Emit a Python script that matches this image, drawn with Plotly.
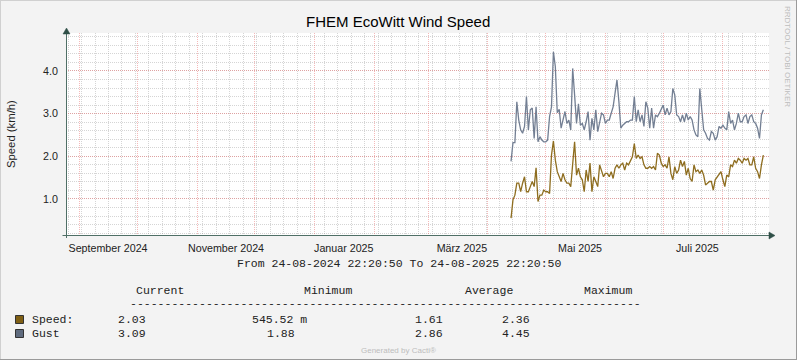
import plotly.graph_objects as go
import pandas as pd

# ---------------- data ----------------
title_text = "FHEM EcoWitt Wind Speed"
y_title = "Speed (km/h)"
range_start = "2024-08-24 22:20:50"
range_end = "2025-08-24 22:20:50"
data_first_day = "2025-04-13"
data_last_day = "2025-08-22"

speed = [0.55, 0.98, 1.09, 1.37, 1.37, 1.17, 1.37, 1.52, 1.17, 1.17,
         1.29, 1.41, 1.29, 1.73, 0.94, 1.09, 1.09, 1.21, 1.17, 1.17,
         1.13, 2.03, 2.36, 1.91, 1.64, 1.52, 1.41, 1.60, 1.45, 1.37,
         1.37, 1.29, 1.91, 2.34, 1.56, 1.72, 1.52, 1.45, 1.17, 1.68,
         1.41, 1.84, 1.17, 1.52, 1.41, 1.29, 1.80, 1.64, 1.52, 1.60,
         1.60, 1.52, 1.64, 1.48, 1.72, 1.80, 1.72, 1.80, 1.84, 1.68,
         1.84, 1.80, 1.91, 1.99, 2.30, 1.95, 2.03, 1.95, 1.99, 1.80,
         1.72, 1.72, 1.76, 1.72, 1.76, 1.68, 2.07, 2.03, 1.84, 1.76,
         1.80, 1.72, 1.99, 1.60, 1.45, 1.76, 1.60, 1.68, 1.91, 1.76,
         1.88, 1.56, 1.72, 1.48, 1.41, 1.80, 1.64, 1.68, 1.60, 1.68,
         1.56, 1.33, 1.37, 1.41, 1.41, 1.21, 1.45, 1.52, 1.60, 1.64,
         1.45, 1.29, 1.56, 1.52, 1.80, 1.76, 1.91, 1.84, 1.95, 1.91,
         1.84, 1.95, 1.91, 1.95, 1.80, 1.80, 1.99, 1.72, 1.64, 1.48,
         1.80, 2.03]

gust = [1.88, 2.32, 2.32, 3.28, 2.85, 2.62, 2.54, 2.70, 3.40, 2.62,
        3.09, 3.13, 2.42, 3.16, 2.34, 2.46, 2.38, 2.34, 2.34, 2.38,
        2.93, 3.16, 4.45, 4.10, 3.02, 3.10, 2.66, 2.85, 3.05, 2.77,
        2.85, 2.62, 4.06, 3.44, 2.77, 3.23, 2.73, 2.77, 2.62, 2.81,
        3.05, 2.38, 2.89, 2.62, 3.09, 2.58, 2.77, 3.01, 2.97, 2.77,
        2.85, 2.85, 3.01, 3.16, 3.48, 3.79, 3.28, 2.66, 2.73, 2.77,
        2.81, 2.81, 2.85, 2.85, 3.40, 2.81, 3.09, 2.81, 2.97, 2.70,
        3.28, 3.13, 2.66, 3.13, 2.66, 2.97, 2.93, 3.01, 3.09, 3.20,
        2.97, 3.13, 2.97, 3.05, 3.59, 3.44, 2.97, 2.93, 2.81, 2.97,
        2.81, 3.01, 2.85, 2.93, 2.85, 2.62, 2.50, 2.46, 3.59, 3.13,
        2.62, 2.54, 2.42, 2.38, 2.58, 2.54, 2.38, 2.46, 2.70, 2.66,
        2.73, 2.66, 2.62, 3.05, 2.77, 2.85, 2.62, 2.77, 3.01, 2.81,
        2.81, 2.93, 2.97, 2.77, 2.93, 2.97, 2.81, 2.77, 2.66, 2.42,
        2.97, 3.09]

days = pd.date_range(data_first_day, data_last_day, freq="D")

x_tick_vals = ["2024-09-15 18:00", "2024-11-16 00:00", "2025-01-16 04:00",
               "2025-03-18 12:00", "2025-05-18 20:00", "2025-07-18 18:00"]
x_tick_text = ["September 2024", "November 2024", "Januar 2025",
               "März 2025", "Mai 2025", "Juli 2025"]
y_tick_vals = [1, 2, 3, 4]
y_min, y_max = 0.156, 4.89

period_text = "From 24-08-2024 22:20:50 To 24-08-2025 22:20:50"
legend_headers = ["Current", "Minimum", "Average", "Maximum"]
legend_names = ["Speed:", "Gust"]
legend_current = ["2.03", "3.09"]
legend_minimum = ["545.52 m", "1.88"]
legend_average = ["1.61", "2.86"]
legend_maximum = ["2.36", "4.45"]

# ---------------- styling ----------------
W, H = 797, 360
PL, PR, PT, PB = 66, 769, 33, 235
BG = "#F3F3F3"
SPEED_LINE = "#8E6D1F"
GUST_LINE = "#737F93"
SPEED_BOX = "#7F5F14"
GUST_BOX = "#5F6B7E"
MGRID = "rgba(232,100,100,0.45)"
GRID = "rgba(150,150,150,0.40)"
AXIS = "#4F6F66"
ARROW = "#2F4F47"
SANS = "Liberation Sans, Arial, sans-serif"
MONO = "Liberation Mono, Courier New, monospace"
TXT = "#222222"


def px(x):
    return (x - PL) / (PR - PL)


def py(y):
    return (PB - y) / (PB - PT)


fig = go.Figure()
fig.add_trace(go.Scatter(x=days, y=gust, mode="lines", line=dict(color=GUST_LINE, width=1.3),
                         xaxis="x", yaxis="y", hoverinfo="skip", showlegend=False))
fig.add_trace(go.Scatter(x=days, y=speed, mode="lines", line=dict(color=SPEED_LINE, width=1.3),
                         xaxis="x2", yaxis="y", hoverinfo="skip", showlegend=False))

shapes = []
# image frame
shapes.append(dict(type="line", xref="paper", yref="paper", x0=px(0), x1=px(797), y0=py(0.5), y1=py(0.5),
                   line=dict(color="#D0D0D0", width=1)))
shapes.append(dict(type="line", xref="paper", yref="paper", x0=px(0.5), x1=px(0.5), y0=py(0), y1=py(360),
                   line=dict(color="#D0D0D0", width=1)))
shapes.append(dict(type="line", xref="paper", yref="paper", x0=px(0), x1=px(797), y0=py(359.5), y1=py(359.5),
                   line=dict(color="#9A9A9A", width=1)))
shapes.append(dict(type="line", xref="paper", yref="paper", x0=px(796.5), x1=px(796.5), y0=py(0), y1=py(360),
                   line=dict(color="#9A9A9A", width=1)))
# axes
shapes.append(dict(type="line", xref="paper", yref="paper", x0=px(66.5), x1=px(66.5), y0=py(238), y1=py(31),
                   line=dict(color=AXIS, width=1), layer="above"))
shapes.append(dict(type="line", xref="paper", yref="paper", x0=px(62.5), x1=px(770), y0=py(235.5), y1=py(235.5),
                   line=dict(color=AXIS, width=1), layer="above"))
shapes.append(dict(type="path", xref="paper", yref="paper",
                   path=f"M {px(66.5)},{py(28)} L {px(63)},{py(34)} L {px(70)},{py(34)} Z",
                   fillcolor=ARROW, line=dict(color=ARROW, width=0.5), layer="above"))
shapes.append(dict(type="path", xref="paper", yref="paper",
                   path=f"M {px(775)},{py(235.5)} L {px(769)},{py(232)} L {px(769)},{py(239)} Z",
                   fillcolor=ARROW, line=dict(color=ARROW, width=0.5), layer="above"))
# legend swatches
shapes.append(dict(type="rect", xref="paper", yref="paper", x0=px(15.5), x1=px(23.5), y0=py(315.5), y1=py(323.5),
                   fillcolor=SPEED_BOX, line=dict(color="#333333", width=1)))
shapes.append(dict(type="rect", xref="paper", yref="paper", x0=px(15.5), x1=px(23.5), y0=py(329.5), y1=py(337.5),
                   fillcolor=GUST_BOX, line=dict(color="#333333", width=1)))

ann = []


def add_text(x, y, text, size, family=SANS, color=TXT, xanchor="left", angle=0):
    ann.append(dict(x=px(x), y=py(y), xref="paper", yref="paper", text=text, showarrow=False,
                    xanchor=xanchor, yanchor="middle", textangle=angle, borderpad=0,
                    font=dict(family=family, size=size, color=color)))


add_text(398, 22, title_text, 15, color="#000000", xanchor="center")
add_text(11, 134, y_title, 11.3, xanchor="center", angle=-90)
add_text(788, 56, "RRDTOOL / TOBI OETIKER", 8, color="#BDBDBD", xanchor="center", angle=90)
add_text(398.5, 263.5, period_text, 11.5, family=MONO, xanchor="center")
for hx, h in zip([135, 302.7, 464, 582.7], legend_headers):
    add_text(hx, 290.5, h, 11.5, family=MONO)
add_text(128.7, 303, "-" * 74, 11.5, family=MONO)
for i, yy in enumerate([319.5, 333]):
    add_text(30.7, yy, legend_names[i], 11.5, family=MONO)
    add_text(116.7, yy, legend_current[i], 11.5, family=MONO)
    add_text(250.7 if i == 0 else 265.7, yy, legend_minimum[i], 11.5, family=MONO)
    add_text(414.3, yy, legend_average[i], 11.5, family=MONO)
    add_text(500.7, yy, legend_maximum[i], 11.5, family=MONO)
add_text(398, 350, "Generated by Cacti®", 8, color="#BDBDBD", xanchor="center")

fig.update_layout(
    width=W, height=H,
    margin=dict(l=PL, r=W - PR, t=PT, b=H - PB, pad=0),
    paper_bgcolor=BG, plot_bgcolor="#FFFFFF",
    showlegend=False,
    xaxis=dict(type="date", range=[range_start, range_end], dtick="M1", tick0="2024-09-01",
               showgrid=True, gridcolor=MGRID, griddash="1px,1px", gridwidth=1,
               showticklabels=False, ticks="", zeroline=False, showline=False, fixedrange=True,
               minor=dict(dtick=7 * 86400000, tick0="2024-09-02", showgrid=True,
                          gridcolor=GRID, griddash="1px,1px", gridwidth=1, ticks="")),
    xaxis2=dict(type="date", range=[range_start, range_end], overlaying="x", anchor="y", side="bottom",
                tickmode="array", tickvals=x_tick_vals, ticktext=x_tick_text,
                showgrid=False, zeroline=False, showline=False,
                ticks="outside", ticklen=3, tickcolor="rgba(0,0,0,0)",
                tickfont=dict(family=SANS, size=10.7, color=TXT), fixedrange=True),
    yaxis=dict(range=[y_min, y_max], tickmode="array", tickvals=y_tick_vals, tickformat=".1f",
               showgrid=True, gridcolor=MGRID, griddash="1px,1px", gridwidth=1,
               zeroline=False, showline=False, ticks="outside", ticklen=5,
               tickcolor="rgba(0,0,0,0)", tickfont=dict(family=SANS, size=10.7, color=TXT),
               fixedrange=True,
               minor=dict(dtick=0.2, tick0=0, showgrid=True, gridcolor=GRID,
                          griddash="1px,1px", gridwidth=1, ticks="")),
    shapes=shapes,
    annotations=ann,
)

fig.write_html("out.html", config={"displayModeBar": False},
               post_script="document.body.style.margin='0';document.body.style.padding='0';")
